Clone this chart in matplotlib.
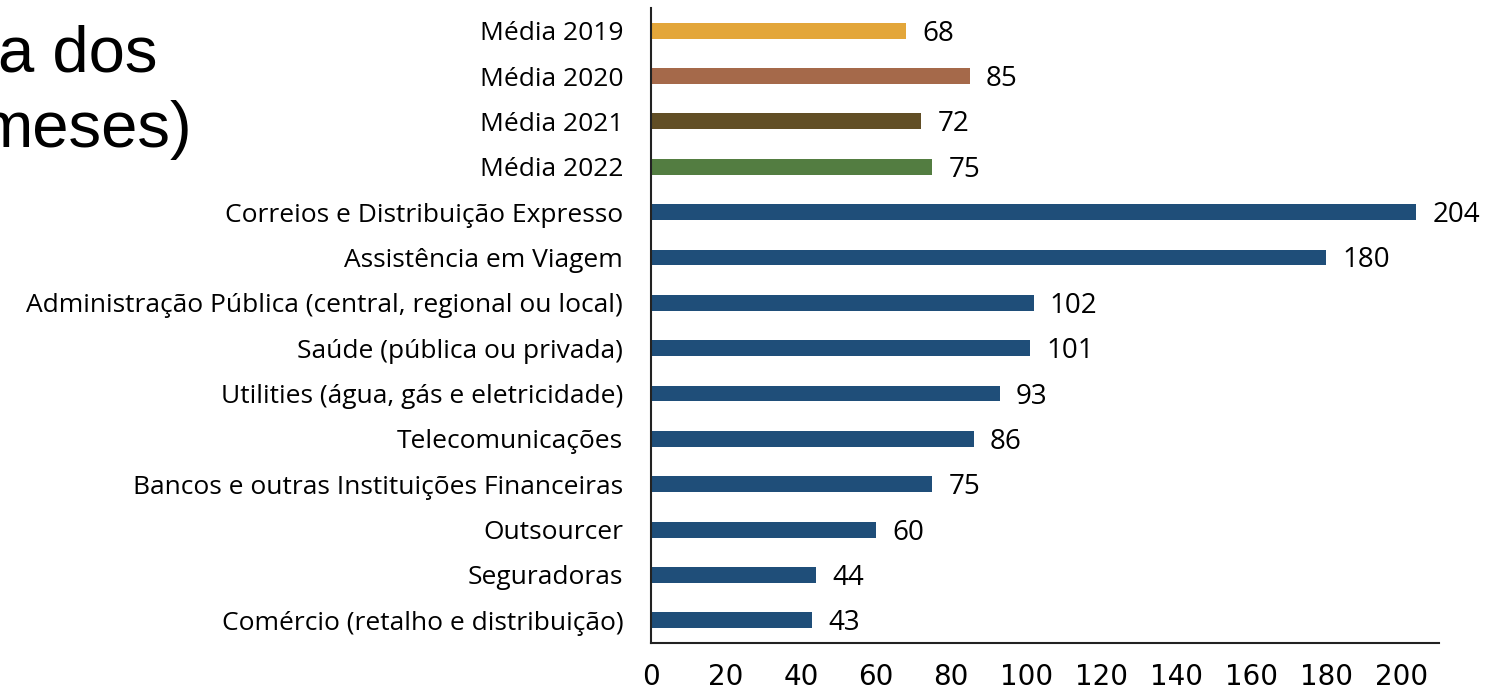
import matplotlib
matplotlib.use("Agg")
import matplotlib.pyplot as plt
from matplotlib.transforms import ScaledTranslation

categories = [
    "Média 2019",
    "Média 2020",
    "Média 2021",
    "Média 2022",
    "Correios e Distribuição Expresso",
    "Assistência em Viagem",
    "Administração Pública (central, regional ou local)",
    "Saúde (pública ou privada)",
    "Utilities (água, gás e eletricidade)",
    "Telecomunicações",
    "Bancos e outras Instituições Financeiras",
    "Outsourcer",
    "Seguradoras",
    "Comércio (retalho e distribuição)",
]
values = [68, 85, 72, 75, 204, 180, 102, 101, 93, 86, 75, 60, 44, 43]
bar_colors = ["#E3A63A", "#A5694A", "#614E25", "#537D41"] + ["#1F4E79"] * 10
x_ticks = [0, 20, 40, 60, 80, 100, 120, 140, 160, 180, 200]

label_font = "Open Sans"

fig = plt.figure(figsize=(14.99, 6.91), dpi=100)
ax = fig.add_axes([651 / 1499, 1 - 643 / 691, (1439 - 651) / 1499, (643 - 8) / 691])

ypos = list(range(len(categories)))
ax.barh(ypos, values, height=0.35, color=bar_colors)

# value labels, nudged slightly below the bar centre line
value_offset = ax.transData + ScaledTranslation(0, -3 / 100, fig.dpi_scale_trans)
for y, v in zip(ypos, values):
    ax.text(v + 4.3, y, str(v), va="center", ha="left", transform=value_offset,
            fontsize=20, family=label_font, color="black")

ax.set_xlim(0, 210)
ax.set_ylim(len(categories) - 0.5, -0.5)
ax.set_yticks(ypos)
ax.set_yticklabels(categories, family=label_font, fontsize=19)
ax.set_xticks(x_ticks)
ax.set_xticklabels([str(t) for t in x_ticks], family="Liberation Sans Narrow", fontsize=20)
ax.tick_params(axis="y", length=0, pad=20)
ax.tick_params(axis="x", length=0, pad=14.5)

for side in ("top", "right"):
    ax.spines[side].set_visible(False)
for side in ("left", "bottom"):
    ax.spines[side].set_linewidth(1.5)
    ax.spines[side].set_color("#222222")

# partial heading at the left edge
fig.text(157 / 1499, 1 - 72 / 691, "a dos", ha="right", va="baseline",
         family="Liberation Sans", fontsize=47)
fig.text(192 / 1499, 1 - 147 / 691, "meses)", ha="right", va="baseline",
         family="Liberation Sans", fontsize=47)

fig.savefig("out.png", dpi=100)
